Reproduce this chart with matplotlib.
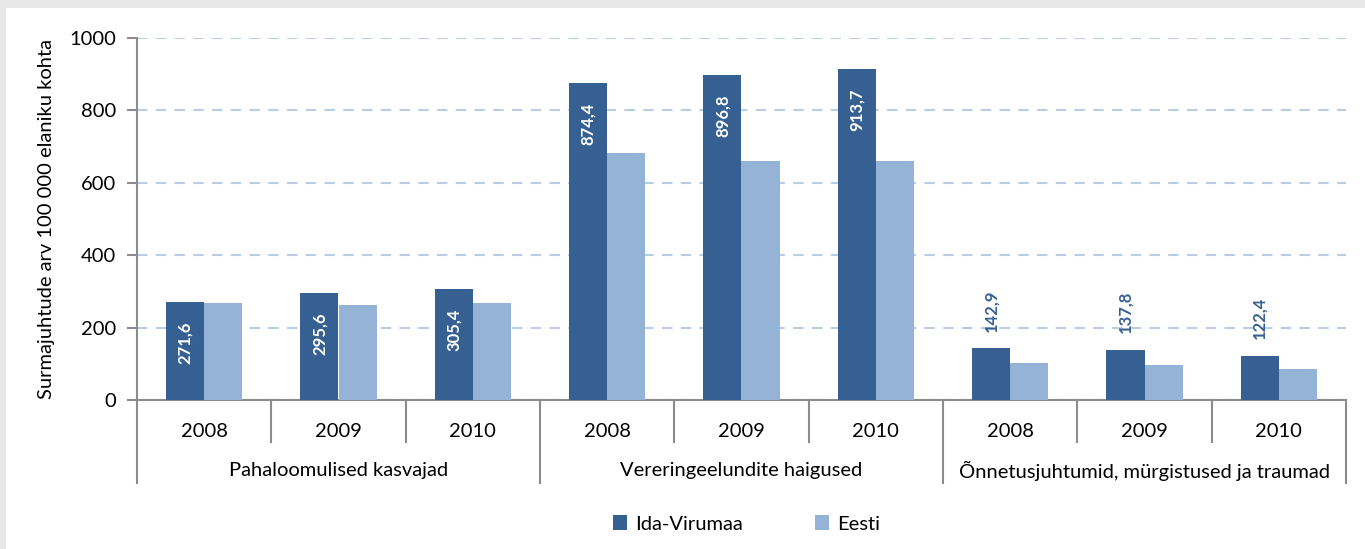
# -*- coding:utf-8 -*-
"""
desc: Surmajuhtude arv 100 000 elaniku kohta, Ida-Virumaa vs Eesti, 2008-2010
"""
import numpy as np
import matplotlib

matplotlib.use("Agg")
import matplotlib.pyplot as plt
from matplotlib.patches import Rectangle
from matplotlib.transforms import blended_transform_factory

groups = [
    "Pahaloomulised kasvajad",
    "Vereringeelundite haigused",
    "Õnnetusjuhtumid, mürgistused ja traumad",
]
years = ["2008", "2009", "2010"]
ida_virumaa = [271.6, 295.6, 305.4, 874.4, 896.8, 913.7, 142.9, 137.8, 122.4]
eesti = [269, 262, 269, 681, 660, 660, 103, 97, 86]
ida_labels = ["271,6", "295,6", "305,4", "874,4", "896,8", "913,7", "142,9", "137,8", "122,4"]
series_names = ["Ida-Virumaa", "Eesti"]

DARK = "#376092"
LIGHT = "#95b3d7"
GRID = "#b9cde5"
AXIS = "#8c8c8c"
FS = 14.5

plt.rcParams["font.family"] = ["Lato", "DejaVu Sans"]

fig = plt.figure(figsize=(13.65, 5.49), dpi=100)
fig.patch.set_facecolor("#e8e8e8")
# white panel inside the gray frame
fig.patches.append(
    Rectangle((6 / 1365, 0), 1, 1 - 8 / 549, transform=fig.transFigure,
              facecolor="white", edgecolor="none", zorder=-1)
)

ax = fig.add_axes([137 / 1365, 1 - 400 / 549, (1346 - 137) / 1365, 362 / 549])
ax.set_facecolor("none")

n = len(ida_virumaa)
x = np.arange(n)
w = 0.283
b1 = ax.bar(x - w / 2, ida_virumaa, w, color=DARK, label=series_names[0], zorder=3)
b2 = ax.bar(x + w / 2, eesti, w, color=LIGHT, label=series_names[1], zorder=3)

# data labels: inside end for first two groups, outside end for the last
for i, (rect, txt) in enumerate(zip(b1, ida_labels)):
    cx = rect.get_x() + rect.get_width() / 2
    top = rect.get_height()
    if i < 6:
        ax.annotate(txt, (cx, top), xytext=(0, -14), textcoords="offset points",
                    rotation=90, ha="center", va="top", color="white",
                    fontsize=12, fontweight="bold", zorder=4)
    else:
        ax.annotate(txt, (cx, top), xytext=(0, 12), textcoords="offset points",
                    rotation=90, ha="center", va="bottom", color=DARK,
                    fontsize=12, fontweight="bold", zorder=4)

ax.set_xlim(-0.5, n - 0.5)
ax.set_ylim(0, 1000)
ax.set_yticks(range(0, 1001, 200))
ax.yaxis.grid(True, color=GRID, linestyle=(0, (5, 4)), linewidth=1.5, zorder=0)
ax.tick_params(axis="y", length=7, width=1.5, color=AXIS, pad=8, labelsize=FS)
ax.set_xticks([])
for s in ["top", "right"]:
    ax.spines[s].set_visible(False)
for s in ["left", "bottom"]:
    ax.spines[s].set_color(AXIS)
    ax.spines[s].set_linewidth(1.5)
ax.set_ylabel("Surmajuhtude arv 100 000 elaniku kohta", fontsize=FS, labelpad=10)

# two-level category axis
trans = blended_transform_factory(ax.transData, ax.transAxes)
for k in range(n + 1):
    xb = k - 0.5
    low = -0.229 if k % 3 == 0 else -0.116
    ax.plot([xb, xb], [0, low], transform=trans, color=AXIS, lw=1.5, clip_on=False)
for i in range(n):
    ax.text(i, -0.088, years[i % 3], transform=trans, ha="center", va="center",
            fontsize=FS)
for g, name in enumerate(groups):
    ax.text(3 * g + 1, -0.196, name, transform=trans, ha="center", va="center",
            fontsize=FS)

fig.legend(handles=[b1, b2], labels=series_names, loc="center",
           bbox_to_anchor=(0.547, 1 - 524 / 549), ncol=2, frameon=False,
           fontsize=FS, handlelength=0.7, handleheight=0.7, handletextpad=0.4,
           columnspacing=3.6)

fig.savefig("out.png", dpi=100, facecolor=fig.get_facecolor())
